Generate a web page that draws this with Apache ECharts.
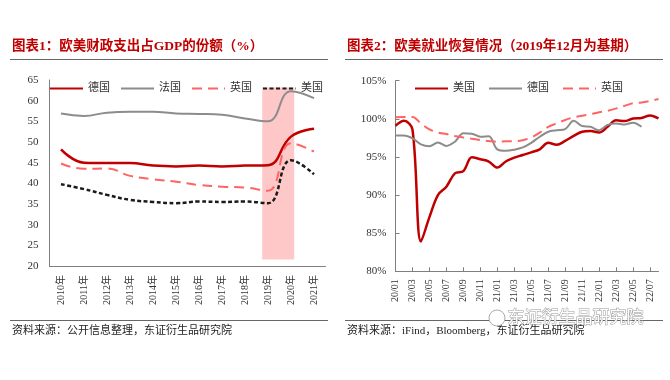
<!DOCTYPE html>
<html><head><meta charset="utf-8">
<script src="https://cdn.jsdelivr.net/npm/echarts@6/dist/echarts.min.js"></script>
<style>
html,body{margin:0;padding:0;background:#fff;width:670px;height:380px;overflow:hidden}
#c1{position:absolute;left:0;top:0;width:335px;height:380px}
#c2{position:absolute;left:335px;top:0;width:335px;height:380px}
</style>
</head><body><div id="c1"></div><div id="c2"></div>
<script>
// ---- Chart 1 data ----
const years = ['2010年','2011年','2012年','2013年','2014年','2015年','2016年','2017年','2018年','2019年','2020年','2021年'];
const deGdp = [48.2, 45.0, 44.9, 44.9, 44.3, 44.1, 44.3, 44.1, 44.3, 44.4, 51.3, 53.2];
const frGdp = [56.9, 56.3, 57.1, 57.3, 57.3, 56.9, 56.8, 56.6, 55.7, 55.0, 62.3, 60.6];
const ukGdp = [44.8, 43.5, 43.6, 41.8, 41.0, 40.4, 39.6, 39.2, 39.0, 38.2, 49.7, 47.7];
const usGdp = [39.8, 38.6, 37.2, 36.0, 35.5, 35.2, 35.6, 35.5, 35.6, 35.2, 45.6, 42.2];
const shadeRange = [9.25, 10.64, 21.6, 63.2]; // band index from/to, value low/high
const names1 = ['德国','法国','英国','美国'];

// ---- Chart 2 data ----
const months = ['20/01','20/02','20/03','20/04','20/05','20/06','20/07','20/08','20/09','20/10','20/11','20/12',
  '21/01','21/02','21/03','21/04','21/05','21/06','21/07','21/08','21/09','21/10','21/11','21/12',
  '22/01','22/02','22/03','22/04','22/05','22/06','22/07','22/08'];
const usEmp = [99.1, 99.75, 98.6, 83.9, 87.1, 90.0, 91.1, 92.85, 93.15, 94.95, 94.7, 94.4, 93.6, 94.4, 94.9, 95.25,
  95.6, 96.0, 96.85, 96.6, 97.1, 97.75, 98.3, 98.4, 98.2, 98.95, 99.8, 99.7, 100.05, 100.1, 100.45, 100.05];
const deEmp = [97.8, 97.8, 97.45, 96.65, 96.4, 96.9, 96.45, 97.0, 98.1, 98.05, 97.65, 97.7, 96.0, 95.8, 95.95, 96.25,
  96.85, 97.65, 98.3, 98.5, 98.65, 99.75, 99.05, 98.95, 98.5, 99.2, 99.4, 99.25, 99.5, 98.95, null, null];
const ukEmp = [100.2, 100.25, 100.25, 99.4, 98.6, 98.2, 98.0, 97.75, 97.55, 97.4, 97.2, 97.1, 97.0, 97.05, 97.05, 97.2,
  97.55, 98.2, 98.95, 99.4, 99.85, 100.2, 100.4, 100.6, 100.85, 101.05, 101.35, 101.7, 102.05, 102.15, 102.35, 102.6];
const names2 = ['美国','德国','英国'];

const FONT = '"Liberation Serif","Noto Sans CJK SC",serif';
const RED = '#c00000', GRAY = '#8c8c8c', PINK = '#ff6464', BLACK = '#1a1a1a', AX = '#7f7f7f';

function frame(title, source) {
  return [
    {type:'text', left:12, top:40, style:{text:title, fill:RED, font:'bold 13.5px ' + FONT}},
    {type:'line', shape:{x1:10, y1:59.5, x2:328, y2:59.5}, style:{stroke:'#666', lineWidth:1}},
    {type:'line', shape:{x1:10, y1:320.5, x2:328, y2:320.5}, style:{stroke:'#666', lineWidth:1}},
    {type:'text', left:12, top:326, style:{text:source, fill:'#222', font:'11px ' + FONT}}
  ];
}

const c1 = echarts.init(document.getElementById('c1'));
c1.setOption({
  animation:false,
  textStyle:{fontFamily:FONT},
  grid:{left:49.5, right:9.5, top:80, bottom:114},
  legend:{data:names1, left:44, top:78, itemWidth:33, itemHeight:12, itemGap:10,
    itemStyle:{opacity:0},
    textStyle:{fontSize:11, color:'#333', fontFamily:FONT}},
  xAxis:[
    {type:'category', data:years, boundaryGap:true,
     axisLine:{lineStyle:{color:AX}}, axisTick:{inside:true, length:4, lineStyle:{color:AX}},
     axisLabel:{rotate:90, fontSize:10, color:'#333', margin:9, fontFamily:FONT}},
    {type:'value', min:0, max:12, show:false}
  ],
  yAxis:{type:'value', min:20, max:65, interval:5,
    axisLine:{show:true, lineStyle:{color:AX}}, axisTick:{show:false}, splitLine:{show:false},
    axisLabel:{fontSize:11, color:'#333', margin:11, fontFamily:FONT}},
  series:[
    {type:'custom', name:'shade', xAxisIndex:1, silent:true, z:1,
     encode:{x:[0,1], y:[2,3]},
     data:[shadeRange],
     renderItem:function(params, api){
       const p1 = api.coord([api.value(0), api.value(3)]);
       const p2 = api.coord([api.value(1), api.value(2)]);
       return {type:'rect', shape:{x:p1[0], y:p1[1], width:p2[0]-p1[0], height:p2[1]-p1[1]}, style:{fill:'#ffc8c8'}};
     }},
    {type:'line', name:'德国', data:deGdp, smooth:0.45, symbol:'none', z:3, lineStyle:{color:RED, width:2.5}, itemStyle:{color:RED}},
    {type:'line', name:'法国', data:frGdp, smooth:0.45, symbol:'none', z:3, lineStyle:{color:GRAY, width:2}, itemStyle:{color:GRAY}},
    {type:'line', name:'英国', data:ukGdp, smooth:0.45, symbol:'none', z:3, lineStyle:{color:PINK, width:2, type:[10,6]}, itemStyle:{color:PINK}},
    {type:'line', name:'美国', data:usGdp, smooth:0.45, symbol:'none', z:3, lineStyle:{color:BLACK, width:2.5, type:[4,2.5]}, itemStyle:{color:BLACK}}
  ],
  graphic: frame('图表1：欧美财政支出占GDP的份额（%）', '资料来源：公开信息整理，东证衍生品研究院')
});

const c2 = echarts.init(document.getElementById('c2'));
const g2 = frame('图表2：欧美就业恢复情况（2019年12月为基期）', '资料来源：iFind，Bloomberg，东证衍生品研究院');
g2.push({type:'circle', shape:{cx:162, cy:318, r:8}, style:{fill:'#fff', stroke:'#aaa', lineWidth:1}});
g2.push({type:'text', left:172, top:308, style:{text:'东证衍生品研究院', fill:'#fff', stroke:'#999', lineWidth:1, font:'17px "Noto Sans CJK SC"'}});
c2.setOption({
  animation:false,
  textStyle:{fontFamily:FONT},
  grid:{left:60.5, right:11.5, top:80.7, bottom:108.7},
  legend:{data:names2, left:74, top:78, itemWidth:33, itemHeight:12, itemGap:13,
    itemStyle:{opacity:0},
    textStyle:{fontSize:11, color:'#333', fontFamily:FONT}},
  xAxis:{type:'category', data:months, boundaryGap:false,
    axisLine:{lineStyle:{color:AX}}, axisTick:{inside:true, length:4, interval:1, lineStyle:{color:AX}},
    axisLabel:{rotate:90, interval:1, fontSize:10, color:'#333', margin:8, fontFamily:FONT}},
  yAxis:{type:'value', min:80, max:105, interval:5,
    axisLine:{show:true, lineStyle:{color:AX}}, axisTick:{show:true, inside:true, length:4, lineStyle:{color:AX}}, splitLine:{show:false},
    axisLabel:{fontSize:11, color:'#333', margin:9, fontFamily:FONT, formatter:'{value}%'}},
  series:[
    {type:'line', name:'美国', data:usEmp, smooth:0.35, symbol:'none', z:3, lineStyle:{color:RED, width:2.5}, itemStyle:{color:RED}},
    {type:'line', name:'德国', data:deEmp, smooth:0.35, symbol:'none', z:3, lineStyle:{color:GRAY, width:2}, itemStyle:{color:GRAY}},
    {type:'line', name:'英国', data:ukEmp, smooth:0.35, symbol:'none', z:3, lineStyle:{color:PINK, width:2, type:[10,6]}, itemStyle:{color:PINK}}
  ],
  graphic: g2
});
</script>
</body></html>
